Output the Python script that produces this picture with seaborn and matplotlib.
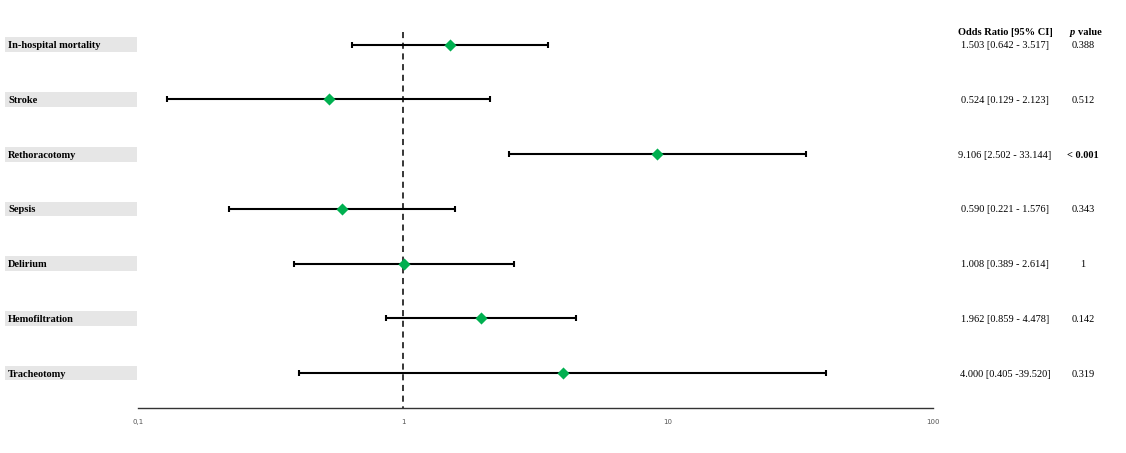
import matplotlib
matplotlib.use('Agg')

import matplotlib.pyplot as plt
import matplotlib.transforms as mtransforms
from matplotlib.patches import Rectangle
import seaborn as sns
import pandas as pd

# data
outcomes = ["In-hospital mortality", "Stroke", "Rethoracotomy", "Sepsis",
            "Delirium", "Hemofiltration", "Tracheotomy"]
odds_ratio = [1.503, 0.524, 9.106, 0.590, 1.008, 1.962, 4.000]
ci_low = [0.642, 0.129, 2.502, 0.221, 0.389, 0.859, 0.405]
ci_high = [3.517, 2.123, 33.144, 1.576, 2.614, 4.478, 39.520]
ci_text = ["1.503 [0.642 - 3.517]", "0.524 [0.129 - 2.123]",
           "9.106 [2.502 - 33.144]", "0.590 [0.221 - 1.576]",
           "1.008 [0.389 - 2.614]", "1.962 [0.859 - 4.478]",
           "4.000 [0.405 -39.520]"]
p_text = ["0.388", "0.512", "< 0.001", "0.343", "1", "0.142", "0.319"]
x_ticks = [0.1, 1, 10, 100]
x_ticklabels = ["0,1", "1", "10", "100"]

df = pd.DataFrame({"outcome": outcomes, "OR": odds_ratio,
                   "lo": ci_low, "hi": ci_high})
df["row"] = range(len(df))

sns.set_style("white")
plt.rcParams["text.color"] = "black"
serif = ["Liberation Serif", "DejaVu Serif"]

fig = plt.figure(figsize=(11.26, 4.53), dpi=100)
ax = fig.add_axes([0.1226, 0.0993, 0.706, 0.857])

# confidence intervals
ax.errorbar(df["OR"], df["row"],
            xerr=[df["OR"] - df["lo"], df["hi"] - df["OR"]],
            fmt="none", ecolor="black", elinewidth=1.5,
            capsize=2.2, capthick=1.5, zorder=2)
# point estimates
sns.scatterplot(data=df, x="OR", y="row", marker="D", color="#00b050",
                s=38, edgecolor="#00b050", linewidth=0, zorder=3, ax=ax)

# reference line at OR = 1
ax.plot([1, 1], [-0.24, 6.64], color="black", linestyle=(0, (4, 3)),
        linewidth=1.1, zorder=1)

ax.set_xscale("log")
ax.set_xlim(0.1, 100)
ax.set_ylim(6.64, -0.457)
ax.set_xticks(x_ticks)
ax.set_xticklabels(x_ticklabels)
ax.minorticks_off()
ax.tick_params(axis="x", length=0, labelsize=5, labelcolor="#555555", pad=8)
ax.set_yticks([])
ax.set_xlabel("")
ax.set_ylabel("")
for side in ["top", "right", "left"]:
    ax.spines[side].set_visible(False)
ax.spines["bottom"].set_color("#333333")
ax.spines["bottom"].set_linewidth(1.0)

# outcome labels with gray boxes on the left
blend = mtransforms.blended_transform_factory(fig.transFigure, ax.transData)
for i, name in enumerate(outcomes):
    ax.add_patch(Rectangle((5 / 1126, i - 0.135), 132 / 1126, 0.27,
                           transform=blend, facecolor="#e6e6e6",
                           edgecolor="none", clip_on=False))
    ax.text(8 / 1126, i, name, transform=blend, ha="left",
            va="center_baseline", fontsize=7.5, fontweight="bold",
            family=serif)

# right-hand columns
ax.text(1005 / 1126, -0.24, "Odds Ratio [95% CI]", transform=blend,
        ha="center", va="center_baseline", fontsize=7.5, fontweight="bold",
        family=serif)
ax.text(1075 / 1126, -0.24, "p", transform=blend, ha="right",
        va="center_baseline", fontsize=7.5, fontweight="bold",
        style="italic", family=serif)
ax.text(1078 / 1126, -0.24, "value", transform=blend, ha="left",
        va="center_baseline", fontsize=7.5, fontweight="bold",
        family=serif)
for i in range(len(outcomes)):
    ax.text(1005 / 1126, i, ci_text[i], transform=blend, ha="center",
            va="center_baseline", fontsize=7.5, family=serif)
    weight = "bold" if p_text[i].startswith("<") else "normal"
    ax.text(1083 / 1126, i, p_text[i], transform=blend, ha="center",
            va="center_baseline", fontsize=7.5, fontweight=weight,
            family=serif)

fig.savefig("out.png", dpi=100)
